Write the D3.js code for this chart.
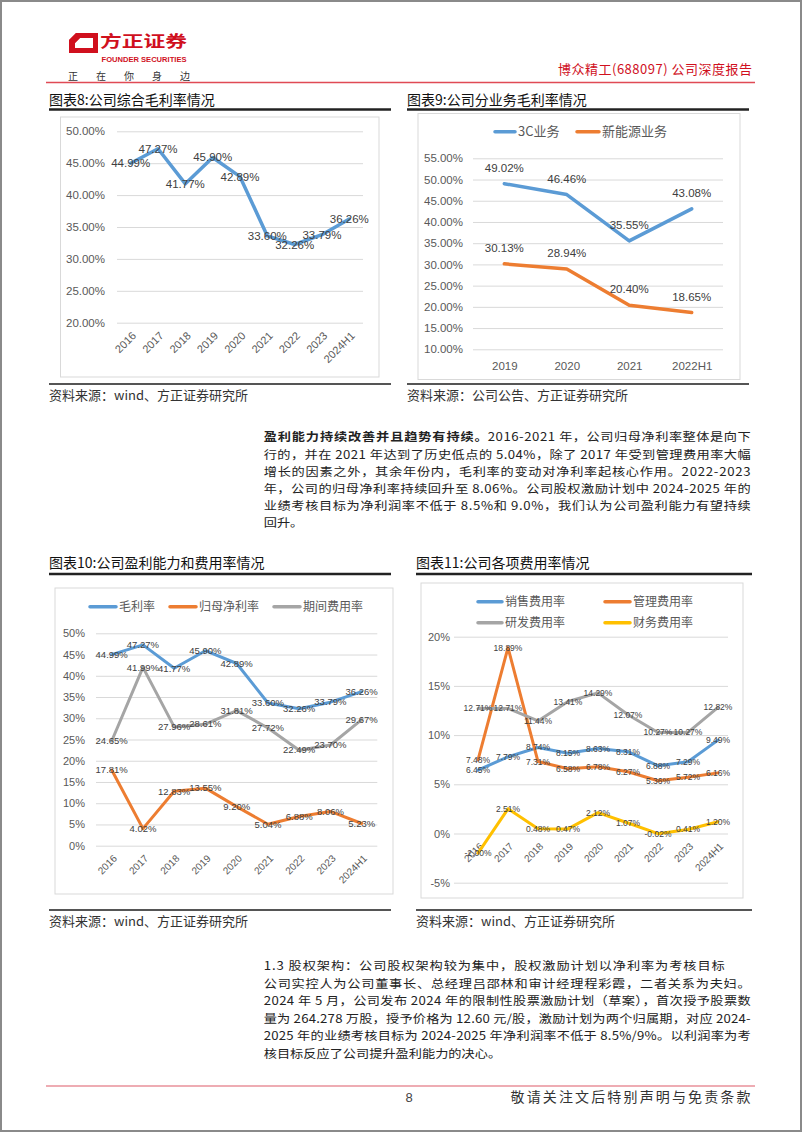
<!DOCTYPE html>
<html><head><meta charset="utf-8">
<script src="https://cdn.jsdelivr.net/npm/d3@7"></script>
<style>
html,body{margin:0;padding:0;background:#fff;}
svg{display:block;}
</style></head><body>
<svg id="page" width="802" height="1133"></svg>
<script>
// ---------------- data ----------------
const years = ["2016","2017","2018","2019","2020","2021","2022","2023","2024H1"];
const grossMargin = [44.99,47.27,41.77,45.90,42.89,33.60,32.26,33.79,36.26];
const bizYears = ["2019","2020","2021","2022H1"];
const margin3C = [49.02,46.46,35.55,43.08];
const marginNewEnergy = [30.13,28.94,20.40,18.65];
const netMargin = [17.81,4.02,12.83,13.55,9.20,5.04,6.88,8.06,5.23];
const periodExpenseRate = [24.65,41.99,27.96,28.61,31.81,27.72,22.49,23.70,29.67];
const sellingRate = [6.45,7.79,8.74,8.15,8.63,8.31,6.88,7.29,9.49];
const adminRate = [7.48,18.89,7.31,6.58,6.78,6.27,5.36,5.72,6.16];
const rdRate = [12.71,12.71,11.44,13.41,14.29,12.07,10.27,10.27,12.82];
const financeRate = [-2.00,2.51,0.48,0.47,2.12,1.07,-0.02,0.41,1.20];
const ticks8 = [20,25,30,35,40,45,50];
const ticks9 = [10,15,20,25,30,35,40,45,50,55];
const ticks10 = [0,5,10,15,20,25,30,35,40,45,50];
const ticks11 = [-5,0,5,10,15,20];
const para1 = [
  ["盈利能力持续改善并且趋势有持续。","2016-2021 年，公司归母净利率整体是向下"],
  ["","行的，并在 2021 年达到了历史低点的 5.04%，除了 2017 年受到管理费用率大幅"],
  ["","增长的因素之外，其余年份内，毛利率的变动对净利率起核心作用。2022-2023"],
  ["","年，公司的归母净利率持续回升至 8.06%。公司股权激励计划中 2024-2025 年的"],
  ["","业绩考核目标为净利润率不低于 8.5%和 9.0%，我们认为公司盈利能力有望持续"],
  ["","回升。"]
];
const para2 = [
  "1.3 股权架构：公司股权架构较为集中，股权激励计划以净利率为考核目标",
  "公司实控人为公司董事长、总经理吕邵林和审计经理程彩霞，二者关系为夫妇。",
  "2024 年 5 月，公司发布 2024 年的限制性股票激励计划（草案），首次授予股票数",
  "量为 264.278 万股，授予价格为 12.60 元/股，激励计划为两个归属期，对应 2024-",
  "2025 年的业绩考核目标为 2024-2025 年净利润率不低于 8.5%/9%。以利润率为考",
  "核目标反应了公司提升盈利能力的决心。"
];

// ---------------- style ----------------
const BLUE="#5B9BD5", ORANGE="#ED7D31", GRAY="#A5A5A5", YELLOW="#FFC000";
const NUMF = "'Liberation Sans','Noto Sans CJK SC',sans-serif";
const CJK = "'Noto Sans CJK SC','Liberation Sans',sans-serif";
const RED = "#D0101E";

const svg = d3.select("#page");
svg.append("rect").attr("x",1).attr("y",1).attr("width",800).attr("height",1130)
  .attr("fill","#fff").attr("stroke","#8a8a8a").attr("stroke-width",2);

function txt(x,y,s,size,fill,opts={}){
  const t = svg.append("text").attr("x",x).attr("y",y).text(s)
    .style("font-size",size+"px").style("font-family",opts.font||CJK).attr("fill",fill);
  if(opts.anchor) t.attr("text-anchor",opts.anchor);
  if(opts.weight) t.style("font-weight",opts.weight);
  if(opts.len) t.attr("textLength",opts.len).attr("lengthAdjust",opts.adj||"spacing");
  return t;
}
function hline(x1,x2,y,color,w){
  svg.append("line").attr("x1",x1).attr("x2",x2).attr("y1",y).attr("y2",y).attr("stroke",color).attr("stroke-width",w);
}

// ---------------- header ----------------
svg.append("path").attr("fill",RED).attr("fill-rule","evenodd")
  .attr("d","M76,33 L98,33 L98,53 L69,53 L69,40 Z M80,38 L93,38 L93,48 L75,48 L75,43 Z");
svg.append("path").attr("fill",RED).attr("d","M69,40 L76,33 L80,38 L75,43 Z").attr("opacity",0.75);
txt(100,47,"方正证券",16,RED,{weight:"bold",len:87,adj:"spacingAndGlyphs"});
txt(101.5,62,"FOUNDER SECURITIES",7.5,RED,{weight:"bold",font:NUMF,len:85,adj:"spacingAndGlyphs"});
txt(68,80,"正在你身边",10,"#333",{len:122});
txt(558,74,"博众精工(688097) 公司深度报告",13,RED,{len:194});
hline(46,755,82.5,"#E04A55",1.5);

// ---------------- section titles / sources ----------------
function section(x1,x2,titleY,title,lineY){
  txt(x1,titleY,title,14,"#111");
  hline(x1,x2,lineY,"#222",2.5);
}
function source(x1,x2,lineY,s){
  hline(x1,x2,lineY,"#555",2);
  txt(x1,lineY+16,s,13,"#333");
}
section(49,391,104.5,"图表8:公司综合毛利率情况",109.5);
section(407,749,104.5,"图表9:公司分业务毛利率情况",109.5);
section(49,391,567.5,"图表10:公司盈利能力和费用率情况",574);
section(416,752,567.5,"图表11:公司各项费用率情况",574);
source(49,391,384,"资料来源：wind、方正证券研究所");
source(407,749,384,"资料来源：公司公告、方正证券研究所");
source(49,391,910,"资料来源：wind、方正证券研究所");
source(416,752,910,"资料来源：wind、方正证券研究所");

// chart boxes
[[60.5,117,318.5,260],[418,113.5,322,266],[55,588,338,306],[421,583,322,315]].forEach(b=>{
  svg.append("rect").attr("x",b[0]).attr("y",b[1]).attr("width",b[2]).attr("height",b[3])
    .attr("fill","#fff").attr("stroke","#D9D9D9").attr("stroke-width",1);
});

// ---------------- chart function ----------------
function lineChart(o){
  const g = svg.append("g");
  const x = d3.scalePoint().domain(o.cats).range(o.xr);
  const y = d3.scaleLinear().domain(o.yd).range(o.yr);
  const ax = d3.axisLeft(y).tickValues(o.ticks).tickFormat(o.fmt)
    .tickSize(-(o.gx[1]-o.gx[0])).tickPadding(o.pad);
  const ag = g.append("g").attr("transform",`translate(${o.gx[0]},0)`).call(ax);
  ag.select(".domain").remove();
  ag.selectAll("line").attr("stroke","#D9D9D9").attr("stroke-width",1);
  ag.selectAll("text").attr("fill","#595959").style("font-size",o.yfs+"px").style("font-family",NUMF);

  const xa = d3.axisBottom(x).tickSize(0).tickPadding(0);
  const xg = g.append("g").attr("transform",`translate(0,${y(o.xAt)})`).call(xa);
  xg.select(".domain").remove();
  const xt = xg.selectAll("text").attr("fill","#595959").style("font-size",o.xfs+"px").style("font-family",NUMF);
  if(o.rot){
    xt.attr("x",0).attr("y",0).attr("dy","0.35em").attr("text-anchor","end")
      .attr("transform",`translate(${o.rot[0]},${o.rot[1]}) rotate(-45)`);
  } else {
    xt.attr("y",o.xdy).attr("dy","0");
  }
  const line = d3.line().x((d,i)=>x(o.cats[i])).y(d=>y(d));
  o.series.forEach(s=>{
    g.append("path").datum(s.values).attr("d",line).attr("fill","none")
      .attr("stroke",s.color).attr("stroke-width",o.lw)
      .attr("stroke-linejoin","round").attr("stroke-linecap","round");
  });
  o.series.forEach(s=>{
    g.append("g").selectAll("text").data(s.values).join("text")
      .attr("x",(d,i)=>x(o.cats[i])).attr("y",d=>y(d)+o.ldy)
      .attr("dy","0.35em").attr("text-anchor","middle")
      .attr("fill","#404040").style("font-size",o.lfs+"px").style("font-family",NUMF)
      .text(d=>d.toFixed(2)+"%");
  });
  // legend
  (o.legend||[]).forEach(l=>{
    g.append("line").attr("x1",l.x).attr("x2",l.x+l.w).attr("y1",l.y).attr("y2",l.y)
      .attr("stroke",l.color).attr("stroke-width",3.5).attr("stroke-linecap","round");
    g.append("text").attr("x",l.x+l.w+3).attr("y",l.y).attr("dy","0.36em")
      .attr("fill","#595959").style("font-size",o.legfs+"px").style("font-family",CJK).text(l.name);
  });
}

// Chart 8
lineChart({
  cats:years, xr:[130.7,349.3], yd:[20,50], yr:[322.7,131.3], ticks:ticks8,
  fmt:d=>d.toFixed(2)+"%", gx:[117,363], pad:12, yfs:11.5, xfs:11, xAt:20, rot:[3,11],
  lw:3.5, lfs:11.5, ldy:0,
  series:[{values:grossMargin,color:BLUE}]
});
// Chart 9
lineChart({
  cats:bizYears, xr:[504.3,691.7], yd:[10,55], yr:[349.3,158.3], ticks:ticks9,
  fmt:d=>d.toFixed(2)+"%", gx:[473,723], pad:10, yfs:11.5, xfs:11.5, xAt:10, xdy:21,
  lw:3.5, lfs:11.5, ldy:-16, legfs:13,
  series:[{values:margin3C,color:BLUE},{values:marginNewEnergy,color:ORANGE}],
  legend:[{x:495,w:20,y:131.7,color:BLUE,name:"3C业务"},{x:577,w:22,y:131.7,color:ORANGE,name:"新能源业务"}]
});
// Chart 10
lineChart({
  cats:years, xr:[111.7,361.7], yd:[0,50], yr:[845.7,633.3], ticks:ticks10,
  fmt:d=>d+"%", gx:[96,377.3], pad:11, yfs:11, xfs:10, xAt:0, rot:[3,11],
  lw:3, lfs:9.5, ldy:0, legfs:12,
  series:[{values:grossMargin,color:BLUE},{values:netMargin,color:ORANGE},{values:periodExpenseRate,color:GRAY}],
  legend:[{x:90,w:26,y:606.7,color:BLUE,name:"毛利率"},{x:170,w:26,y:606.7,color:ORANGE,name:"归母净利率"},{x:274,w:26,y:606.7,color:GRAY,name:"期间费用率"}]
});
// Chart 11
lineChart({
  cats:years, xr:[478,718], yd:[-5,20], yr:[882.7,636.7], ticks:ticks11,
  fmt:d=>d+"%", gx:[454,728], pad:4, yfs:11, xfs:10, xAt:0, rot:[3,11],
  lw:3, lfs:8.5, ldy:0, legfs:12,
  series:[{values:sellingRate,color:BLUE},{values:adminRate,color:ORANGE},{values:rdRate,color:GRAY},{values:financeRate,color:YELLOW}],
  legend:[{x:478,w:24,y:601.7,color:BLUE,name:"销售费用率"},{x:605,w:25,y:601.7,color:ORANGE,name:"管理费用率"},
          {x:478,w:24,y:622.7,color:GRAY,name:"研发费用率"},{x:605,w:25,y:622.7,color:YELLOW,name:"财务费用率"}]
});

// ---------------- body text (lines slightly condensed vertically so line boxes don't collide) ----------------
const SY = 0.9, PFS = 13.2;
const P1Y = [441.5,458.6,475.7,492.8,509.9,527];
const t1 = svg.append("text").attr("transform",`scale(1,${SY})`)
  .style("font-size",PFS+"px").style("font-family",CJK).attr("fill","#222");
para1.forEach((ln,i)=>{
  const yy = P1Y[i]/SY;
  if(ln[0]){
    const bw = ln[0].length*14;
    t1.append("tspan").attr("x",263.7).attr("y",yy).style("font-weight","bold").text(ln[0])
      .attr("textLength",bw).attr("lengthAdjust","spacing");
    t1.append("tspan").attr("x",263.7+bw).attr("y",yy).text(ln[1])
      .attr("textLength",487-bw).attr("lengthAdjust","spacing");
  } else {
    const ts = t1.append("tspan").attr("x",263.7).attr("y",yy).text(ln[1]);
    if(i<para1.length-1) ts.attr("textLength",487).attr("lengthAdjust","spacing");
  }
});
const P2Y = [970,987.6,1005.2,1022.8,1040.4,1058];
const t2 = svg.append("text").attr("transform",`scale(1,${SY})`)
  .style("font-size",PFS+"px").style("font-family",CJK).attr("fill","#222");
para2.forEach((s,i)=>{
  const ts = t2.append("tspan").attr("x",263.7).attr("y",P2Y[i]/SY).text(s);
  if(i===0) ts.attr("textLength",461).attr("lengthAdjust","spacing");
  else if(i<para2.length-1) ts.attr("textLength",487).attr("lengthAdjust","spacing");
});

// ---------------- footer ----------------
hline(46,755,1086,"#E8909A",1.5);
txt(405.6,1102,"8",13,"#444",{font:NUMF});
txt(510.5,1102,"敬请关注文后特别声明与免责条款",14,"#333",{len:240});
</script>
</body></html>
